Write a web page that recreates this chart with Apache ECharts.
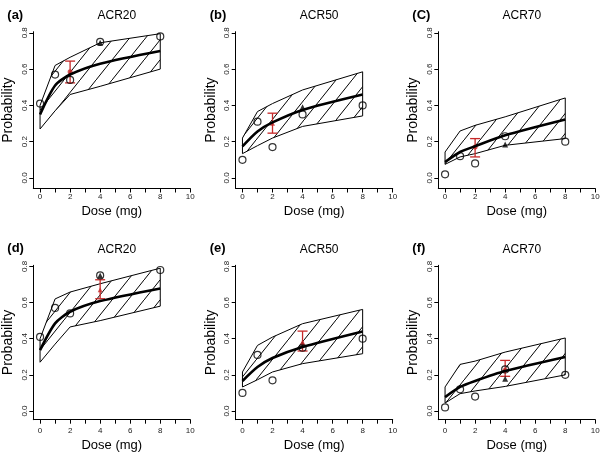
<!DOCTYPE html>
<html>
<head>
<meta charset="utf-8">
<script src="https://cdn.jsdelivr.net/npm/echarts@6/dist/echarts.min.js"></script>
<style>
  html, body { margin: 0; padding: 0; background: #fff; }
  #chart { width: 600px; height: 454px; }
</style>
</head>
<body>
<div id="chart"></div>
<script>
var dom = document.getElementById('chart');
var myChart = echarts.init(dom, null, { renderer: 'canvas' });

// ---- data ----
var doses = [0, 1, 2, 4, 8];
var panelTags = ['(a)', '(b)', '(C)', '(d)', '(e)', '(f)'];
var panelTitles = ['ACR20', 'ACR50', 'ACR70', 'ACR20', 'ACR50', 'ACR70'];

// hatched prediction band (upper / lower edge at each dose)
var bandUpper = [
    [0.40, 0.62, 0.665, 0.745, 0.795],
    [0.22, 0.366, 0.41, 0.485, 0.585],
    [0.143, 0.259, 0.29, 0.337, 0.441],
    [0.40, 0.62, 0.658, 0.704, 0.79],
    [0.216, 0.363, 0.409, 0.483, 0.562],
    [0.133, 0.258, 0.276, 0.326, 0.404]
];
var bandLower = [
    [0.27, 0.37, 0.46, 0.505, 0.60],
    [0.134, 0.178, 0.22, 0.284, 0.342],
    [0.075, 0.116, 0.134, 0.18, 0.217],
    [0.27, 0.37, 0.465, 0.50, 0.58],
    [0.133, 0.173, 0.216, 0.262, 0.317],
    [0.044, 0.096, 0.111, 0.136, 0.20]
];
// thick median curve
var meanCurve = [
    [0.35, 0.51, 0.57, 0.63, 0.70],
    [0.174, 0.256, 0.306, 0.375, 0.46],
    [0.088, 0.143, 0.175, 0.235, 0.322],
    [0.337, 0.485, 0.549, 0.608, 0.678],
    [0.166, 0.243, 0.293, 0.354, 0.44],
    [0.077, 0.133, 0.166, 0.221, 0.299]
];
// observed proportions (open circles)
var observed = [
    [0.41, 0.57, 0.54, 0.75, 0.78],
    [0.10, 0.31, 0.17, 0.35, 0.40],
    [0.02, 0.12, 0.08, 0.23, 0.20],
    [0.41, 0.57, 0.54, 0.75, 0.78],
    [0.10, 0.31, 0.17, 0.35, 0.40],
    [0.02, 0.12, 0.08, 0.23, 0.20]
];
// red interval
var predDose = [2, 2, 2, 4, 4, 4];
var predLow = [0.524, 0.247, 0.116, 0.621, 0.332, 0.192];
var predHigh = [0.644, 0.357, 0.217, 0.726, 0.442, 0.28];
var predMid = [0.585, 0.302, 0.171, 0.671, 0.382, 0.225];
// black triangles
var markDose = [4, 4, 4, 4, 4, 4];
var markProb = [0.745, 0.39, 0.184, 0.75, 0.37, 0.179];

var xTicks = [0, 1, 2, 3, 4, 5, 6, 7, 8, 9, 10];
var xLabels = [0, 2, 4, 6, 8, 10];
var yTicks = [0, 0.2, 0.4, 0.6, 0.8];

// ---- hatch pattern ----
var hatch = document.createElement('canvas');
var hw = 16, hh = Math.round(16 * Math.tan(52 * Math.PI / 180));
hatch.width = hw;
hatch.height = hh;
var hctx = hatch.getContext('2d');
hctx.strokeStyle = '#000';
hctx.lineWidth = 1;
hctx.beginPath();
hctx.moveTo(-hw, 2 * hh);
hctx.lineTo(2 * hw, -hh);
hctx.stroke();

var RED = '#c62828';
var colLeft = [33.3, 235.7, 438.3];
var rowTop = [31.7, 265.3];
var rowHeight = [156.8, 154.4];
var rowMin = [-0.058, -0.048];
var labelMargin = [4, 7];
var nameGapX = [16, 19];
var redSymbol = ['circle', 'triangle', 'circle', 'triangle', 'triangle', 'circle'];

var grids = [], xAxes = [], yAxes = [], series = [], titles = [];

for (var p = 0; p < 6; p++) {
    var row = Math.floor(p / 3), col = p % 3;
    grids.push({
        left: colLeft[col], top: rowTop[row], width: 157, height: rowHeight[row],
        outerBoundsMode: 'none'
    });
    xAxes.push({
        gridIndex: p, type: 'value', min: -0.45, max: 10,
        axisLine: { onZero: false, lineStyle: { color: '#000', width: 1 } },
        axisTick: { customValues: xTicks, length: 4, lineStyle: { color: '#000' } },
        axisLabel: { customValues: xLabels, fontSize: 8, color: '#222', margin: labelMargin[row] },
        splitLine: { show: false },
        name: 'Dose (mg)', nameLocation: 'middle', nameGap: nameGapX[row],
        nameTextStyle: { fontSize: 13, color: '#000' }
    });
    yAxes.push({
        gridIndex: p, type: 'value', min: rowMin[row], max: 0.806,
        axisLine: { onZero: false, lineStyle: { color: '#000', width: 1 } },
        axisTick: { customValues: yTicks, length: 4, lineStyle: { color: '#000' } },
        axisLabel: {
            customValues: yTicks, fontSize: 8, color: '#222', rotate: 90, margin: 5,
            formatter: function (v) { return v.toFixed(1); }
        },
        splitLine: { show: false },
        name: 'Probability', nameLocation: 'middle', nameGap: 18,
        nameTextStyle: { fontSize: 14, color: '#000' }
    });

    titles.push({
        text: panelTitles[p],
        left: colLeft[col] + 78.5, top: rowTop[row] - 27, textAlign: 'center',
        textStyle: { fontSize: 12, fontWeight: 'normal', color: '#000' }
    });
    titles.push({
        text: panelTags[p],
        left: colLeft[col] - 31, top: rowTop[row] - 28,
        textStyle: { fontSize: 13, fontWeight: 'bold', color: '#000' }
    });

    (function (p) {
        series.push({
            type: 'custom', xAxisIndex: p, yAxisIndex: p, clip: false,
            data: [[doses[0], bandLower[p][0]]],
            renderItem: function (params, api) {
                var pts = [];
                for (var k = 0; k < doses.length; k++) pts.push(api.coord([doses[k], bandUpper[p][k]]));
                for (var k = doses.length - 1; k >= 0; k--) pts.push(api.coord([doses[k], bandLower[p][k]]));
                return {
                    type: 'polygon', shape: { points: pts },
                    style: { fill: { image: hatch, repeat: 'repeat' }, stroke: '#000', lineWidth: 1 }
                };
            },
            silent: true
        });
        series.push({
            type: 'line', xAxisIndex: p, yAxisIndex: p, showSymbol: false, symbol: 'none',
            smooth: 0.25,
            data: doses.map(function (d, k) { return [d, meanCurve[p][k]]; }),
            lineStyle: { color: '#000', width: 2.6 }
        });
        series.push({
            type: 'scatter', xAxisIndex: p, yAxisIndex: p, symbol: 'circle', symbolSize: 7,
            data: doses.map(function (d, k) { return [d, observed[p][k]]; }),
            itemStyle: { color: 'rgba(0,0,0,0)', borderColor: '#000', borderWidth: 1.2 }
        });
        series.push({
            type: 'scatter', xAxisIndex: p, yAxisIndex: p, symbol: 'triangle', symbolSize: 6,
            data: [[markDose[p], markProb[p]]],
            itemStyle: { color: '#000' }
        });
        series.push({
            type: 'custom', xAxisIndex: p, yAxisIndex: p, clip: false,
            data: [[predDose[p], predLow[p], predHigh[p]]],
            renderItem: function (params, api) {
                var lo = api.coord([api.value(0), api.value(1)]);
                var hi = api.coord([api.value(0), api.value(2)]);
                var cap = 5;
                var st = { stroke: RED, lineWidth: 1.3 };
                return {
                    type: 'group',
                    children: [
                        { type: 'line', shape: { x1: lo[0], y1: lo[1], x2: hi[0], y2: hi[1] }, style: st },
                        { type: 'line', shape: { x1: lo[0] - cap, y1: lo[1], x2: lo[0] + cap, y2: lo[1] }, style: st },
                        { type: 'line', shape: { x1: hi[0] - cap, y1: hi[1], x2: hi[0] + cap, y2: hi[1] }, style: st }
                    ]
                };
            }
        });
        series.push({
            type: 'scatter', xAxisIndex: p, yAxisIndex: p, symbol: redSymbol[p], symbolSize: 5,
            data: [[predDose[p], predMid[p]]],
            itemStyle: { color: RED }
        });
    })(p);
}

var option = {
    animation: false,
    textStyle: { fontFamily: 'Liberation Sans, Arial, sans-serif' },
    title: titles,
    grid: grids,
    xAxis: xAxes,
    yAxis: yAxes,
    series: series
};
myChart.setOption(option);
window.addEventListener('resize', myChart.resize);
</script>
</body>
</html>
